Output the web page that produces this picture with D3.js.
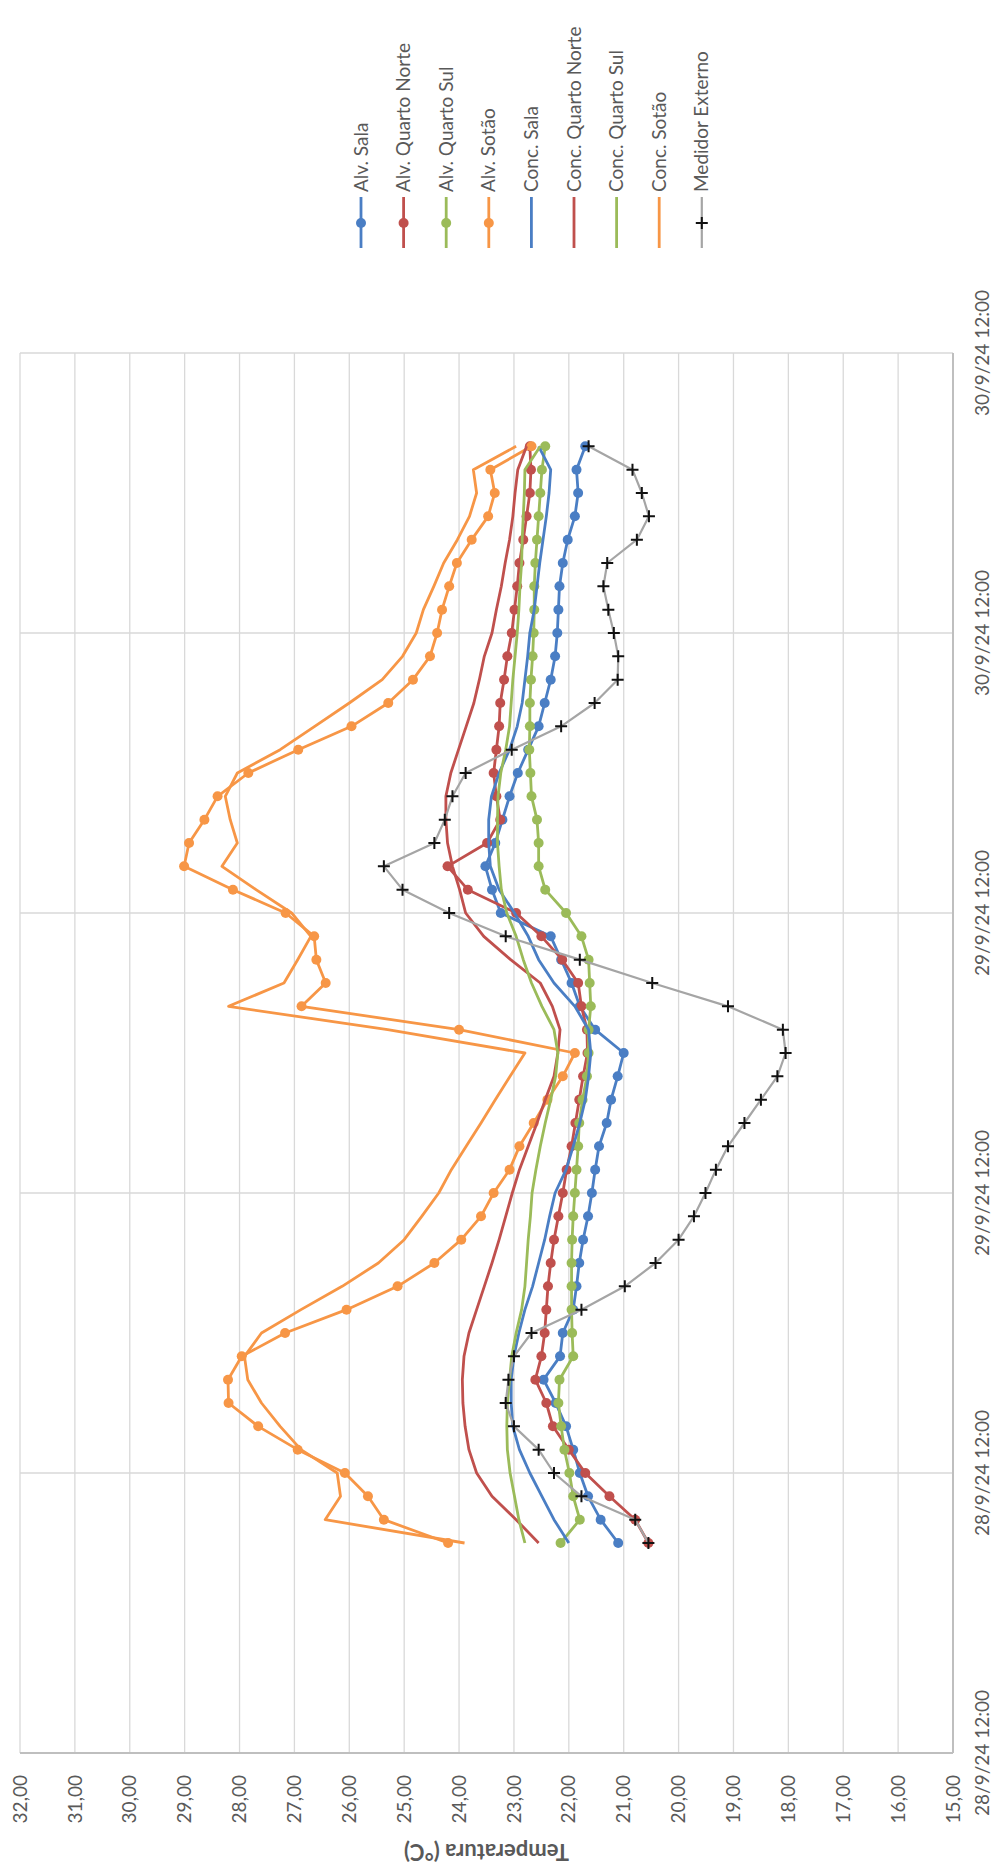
<!DOCTYPE html>
<html><head><meta charset="utf-8">
<script src="https://cdn.jsdelivr.net/npm/d3@7/dist/d3.min.js"></script>
<style>
html,body{margin:0;padding:0;background:#fff;}
svg{display:block;}
text{font-family:Lato,"Open Sans",sans-serif;fill:#595959;}
</style></head>
<body>
<svg id="chart" width="998" height="1870"></svg>
<script>
// hours since axis start (axis runs 0..60 h, gridline every 12 h)
const hours = [9,10,11,12,13,14,15,16,17,18,19,20,21,22,23,24,25,26,27,28,29,30,31,32,33,34,35,36,37,38,39,40,41,42,43,44,45,46,47,48,49,50,51,52,53,54,55,56];
const timeTicks = [0,12,24,36,48,60];
const timeLabels = ["28/9/24 12:00","28/9/24 12:00","29/9/24 12:00","29/9/24 12:00","30/9/24 12:00","30/9/24 12:00"];
const tempTicks = [15,16,17,18,19,20,21,22,23,24,25,26,27,28,29,30,31,32];

const alvSala = [21.1,21.42,21.65,21.8,21.92,22.05,22.24,22.46, 22.16,22.11,21.92,21.86,21.81,21.74,21.65,21.58, 21.52,21.45,21.31,21.23,21.11,21.0,21.52,21.8, 21.95,22.14,22.33,23.24,23.4,23.52,23.34,23.21, 23.08,22.93,22.74,22.55,22.44,22.33,22.25,22.21, 22.19,22.17,22.11,22.02,21.89,21.83,21.86,21.7];
const alvNorte = [20.55,20.79,21.26,21.7,22.0,22.29,22.41,22.61, 22.5,22.44,22.41,22.38,22.33,22.27,22.19,22.11, 22.04,21.95,21.88,21.81,21.74,21.66,21.67,21.77, 21.83,22.12,22.5,22.96,23.84,24.21,23.49,23.25, 23.32,23.37,23.32,23.27,23.25,23.18,23.12,23.04, 22.99,22.94,22.9,22.83,22.77,22.71,22.69,22.71];
const alvSul = [22.15,21.8,21.92,21.99,22.08,22.14,22.19,22.17, 21.92,21.94,21.95,21.95,21.95,21.94,21.92,21.89, 21.86,21.83,21.81,21.75,21.67,21.64,21.64,21.6, 21.62,21.64,21.77,22.05,22.43,22.55,22.55,22.58, 22.68,22.7,22.72,22.71,22.71,22.69,22.66,22.64, 22.63,22.63,22.61,22.58,22.55,22.52,22.49,22.43];
const alvSotao = [24.2,25.37,25.66,26.08,26.94,27.66,28.2,28.21, 27.96,27.17,26.05,25.12,24.45,23.96,23.6,23.37, 23.08,22.9,22.64,22.39,22.11,21.89,24.0,26.87, 26.43,26.6,26.64,27.16,28.12,29.01,28.92,28.64, 28.4,27.84,26.93,25.96,25.29,24.84,24.53,24.4, 24.31,24.18,24.04,23.77,23.47,23.35,23.43,22.68];
const concSala = [22.0,22.27,22.49,22.71,22.9,23.02,23.05,23.05, 23.0,22.91,22.8,22.66,22.55,22.44,22.35,22.25, 22.05,21.92,21.8,21.7,21.64,21.6,21.64,21.89, 22.27,22.55,22.74,22.99,23.27,23.43,23.46,23.46, 23.41,23.27,23.08,22.94,22.85,22.8,22.75,22.71, 22.63,22.58,22.53,22.47,22.41,22.36,22.33,22.55];
const concNorte = [22.55,22.96,23.4,23.68,23.82,23.89,23.93,23.94, 23.91,23.82,23.68,23.54,23.4,23.27,23.15,23.03, 22.9,22.74,22.58,22.43,22.27,22.2,22.16,22.3, 22.52,23.06,23.55,23.88,23.99,24.12,24.21,24.24, 24.24,24.15,24.01,23.87,23.73,23.63,23.54,23.4, 23.32,23.23,23.16,23.08,23.02,22.98,22.93,22.77];
const concSul = [22.8,22.91,22.99,23.07,23.12,23.13,23.12,23.08, 23.04,22.96,22.86,22.8,22.77,22.74,22.7,22.67, 22.6,22.52,22.43,22.33,22.24,22.2,22.27,22.49, 22.68,22.83,22.96,23.13,23.23,23.27,23.3,23.3, 23.29,23.24,23.15,23.08,23.05,23.02,22.98,22.94, 22.91,22.89,22.86,22.85,22.83,22.81,22.8,22.52];
const concSotao = [23.9,26.44,26.16,26.22,26.88,27.26,27.6,27.85, 27.91,27.6,26.88,26.13,25.47,25.0,24.68,24.37, 24.14,23.87,23.6,23.34,23.07,22.8,25.3,28.2, 27.19,26.94,26.7,27.05,27.7,28.32,28.04,28.17, 28.26,28.04,27.26,26.63,26.0,25.4,25.03,24.78, 24.65,24.46,24.28,24.03,23.81,23.68,23.74,22.96];
const medidor = [20.55,20.79,21.77,22.27,22.55,23.0,23.15,23.1, 23.0,22.68,21.77,20.98,20.42,20.0,19.72,19.51, 19.32,19.1,18.8,18.5,18.2,18.05,18.1,19.1, 20.48,21.8,23.15,24.18,25.03,25.37,24.45,24.26, 24.12,23.88,23.04,22.14,21.53,21.11,21.1,21.18, 21.28,21.37,21.3,20.76,20.54,20.67,20.84,21.64];

const seriesNames = ["Alv. Sala","Alv. Quarto Norte","Alv. Quarto Sul","Alv. Sotão","Conc. Sala","Conc. Quarto Norte","Conc. Quarto Sul","Conc. Sotão","Medidor Externo"];
const seriesValues = [alvSala,alvNorte,alvSul,alvSotao,concSala,concNorte,concSul,concSotao,medidor];
const seriesColors = ["#4A7EC4","#C0504D","#9BBB59","#F79646","#4A7EC4","#C0504D","#9BBB59","#F79646","#A5A5A5"];
const seriesMarker = ["circle","circle","circle","circle","none","none","none","none","plus"];

// The chart is drawn in its own (landscape) frame, then turned 90° anticlockwise onto the page.
const W = 1870, H = 998;
const plot = {left:117, right:1517, top:20, bottom:953};
const svg = d3.select("#chart");
const g = svg.append("g").attr("transform", `translate(0,${W}) rotate(-90)`);

const x = d3.scaleLinear().domain([0,60]).range([plot.left, plot.right]);
const y = d3.scaleLinear().domain([15,32]).range([plot.bottom, plot.top]);
const fmt = v => d3.format(".2f")(v).replace(".", ",");

g.append("g").selectAll("line").data(tempTicks).join("line")
  .attr("x1", plot.left).attr("x2", plot.right)
  .attr("y1", d => y(d)).attr("y2", d => y(d))
  .attr("stroke", "#d9d9d9").attr("stroke-width", 1.3);
g.append("g").selectAll("line").data(timeTicks).join("line")
  .attr("x1", d => x(d)).attr("x2", d => x(d))
  .attr("y1", plot.top).attr("y2", plot.bottom)
  .attr("stroke", "#d9d9d9").attr("stroke-width", 1.3);
g.append("line").attr("x1", plot.left).attr("x2", plot.left).attr("y1", plot.top).attr("y2", plot.bottom)
  .attr("stroke", "#bfbfbf").attr("stroke-width", 2);
g.append("line").attr("x1", plot.left).attr("x2", plot.right).attr("y1", plot.bottom).attr("y2", plot.bottom)
  .attr("stroke", "#bfbfbf").attr("stroke-width", 2);

g.append("g").selectAll("text").data(tempTicks).join("text")
  .attr("x", plot.left - 22).attr("y", d => y(d)).attr("dy", "0.35em")
  .attr("text-anchor", "end").attr("font-size", 19).text(d => fmt(d));
g.append("g").selectAll("text").data(timeTicks).join("text")
  .attr("x", d => x(d)).attr("y", plot.bottom + 29).attr("dy", "0.35em")
  .attr("text-anchor", "middle").attr("font-size", 19).text((d,i) => timeLabels[i]);
g.append("text").attr("transform", `translate(18,${(plot.top+plot.bottom)/2}) rotate(-90)`)
  .attr("text-anchor", "middle").attr("dy", "0.35em").attr("font-size", 22).attr("font-weight", "bold")
  .text("Temperatura (°C)");

const line = d3.line().x((d,i) => x(hours[i])).y(d => y(d));
seriesValues.forEach((vals, k) => {
  const sg = g.append("g");
  sg.append("path").datum(vals).attr("d", line)
    .attr("fill", "none").attr("stroke", seriesColors[k])
    .attr("stroke-width", k === 8 ? 2.2 : 2.8).attr("stroke-linejoin", "round");
  if (seriesMarker[k] === "circle") {
    sg.selectAll("circle").data(vals).join("circle")
      .attr("cx", (d,i) => x(hours[i])).attr("cy", d => y(d)).attr("r", 5)
      .attr("fill", seriesColors[k]);
  } else if (seriesMarker[k] === "plus") {
    sg.selectAll("path.m").data(vals).join("path").attr("class", "m")
      .attr("d", (d,i) => { const cx = x(hours[i]), cy = y(d);
        return `M${cx-6},${cy}H${cx+6}M${cx},${cy-6}V${cy+6}`; })
      .attr("stroke", "#111").attr("stroke-width", 2);
  }
});

const leg = g.append("g");
seriesNames.forEach((name, k) => {
  const ly = 361 + k * 42.6;
  leg.append("line").attr("x1", 1622).attr("x2", 1673).attr("y1", ly).attr("y2", ly)
    .attr("stroke", seriesColors[k]).attr("stroke-width", k === 8 ? 2.2 : 2.8);
  if (seriesMarker[k] === "circle") {
    leg.append("circle").attr("cx", 1647).attr("cy", ly).attr("r", 5).attr("fill", seriesColors[k]);
  } else if (seriesMarker[k] === "plus") {
    leg.append("path").attr("d", `M1641,${ly}H1653M1647,${ly-6}V${ly+6}`).attr("stroke", "#111").attr("stroke-width", 2);
  }
  leg.append("text").attr("x", 1678).attr("y", ly).attr("dy", "0.35em").attr("font-size", 19).text(name);
});
</script>
</body></html>
